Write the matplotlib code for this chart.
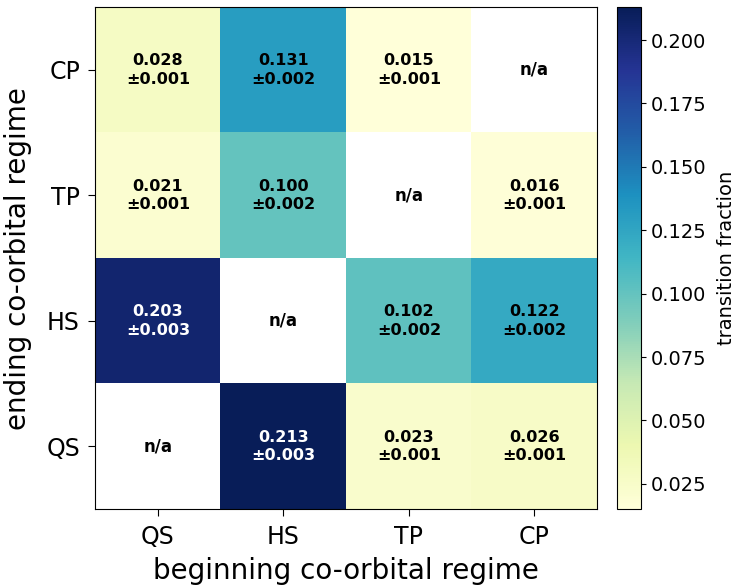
import numpy as np
import matplotlib.pyplot as plt

regimes = ["QS", "HS", "TP", "CP"]

# rows = ending regime (QS, HS, TP, CP), cols = beginning regime
frac_qs = [np.nan, 0.213, 0.023, 0.026]
frac_hs = [0.203, np.nan, 0.102, 0.122]
frac_tp = [0.021, 0.100, np.nan, 0.016]
frac_cp = [0.028, 0.131, 0.015, np.nan]

err_qs = [np.nan, 0.003, 0.001, 0.001]
err_hs = [0.003, np.nan, 0.002, 0.002]
err_tp = [0.001, 0.002, np.nan, 0.001]
err_cp = [0.001, 0.002, 0.001, np.nan]

frac = np.array([frac_qs, frac_hs, frac_tp, frac_cp])
err = np.array([err_qs, err_hs, err_tp, err_cp])

fig = plt.figure(figsize=(7.38, 5.86), dpi=100)
ax = fig.add_axes([0.129, 0.131, 0.680, 0.857])
cax = fig.add_axes([0.836, 0.131, 0.032, 0.857])

im = ax.imshow(frac, origin="lower", cmap="YlGnBu", aspect="auto",
               vmin=np.nanmin(frac), vmax=np.nanmax(frac))

for i in range(len(regimes)):
    for j in range(len(regimes)):
        v = frac[i, j]
        if np.isnan(v):
            ax.text(j, i, "n/a", ha="center", va="center",
                    fontsize=12, fontweight="bold", color="black")
        else:
            c = "white" if v > 0.17 else "black"
            ax.text(j, i, f"{v:.3f}\n\u00b1{err[i, j]:.3f}", ha="center",
                    va="center", fontsize=11.5, fontweight="bold", color=c,
                    linespacing=1.3)

ax.set_xticks(range(len(regimes)))
ax.set_xticklabels(regimes)
ax.set_yticks(range(len(regimes)))
ax.set_yticklabels(regimes)
ax.tick_params(labelsize=17, length=5, pad=6)
ax.set_xlabel("beginning co-orbital regime", fontsize=20, labelpad=6)
ax.set_ylabel("ending co-orbital regime", fontsize=20, labelpad=10)

cb = fig.colorbar(im, cax=cax)
cb.set_ticks([0.025, 0.05, 0.075, 0.1, 0.125, 0.15, 0.175, 0.2])
cb.ax.tick_params(labelsize=14)
cb.set_label("transition fraction", fontsize=14, labelpad=8)

fig.savefig("out.png", dpi=100)
